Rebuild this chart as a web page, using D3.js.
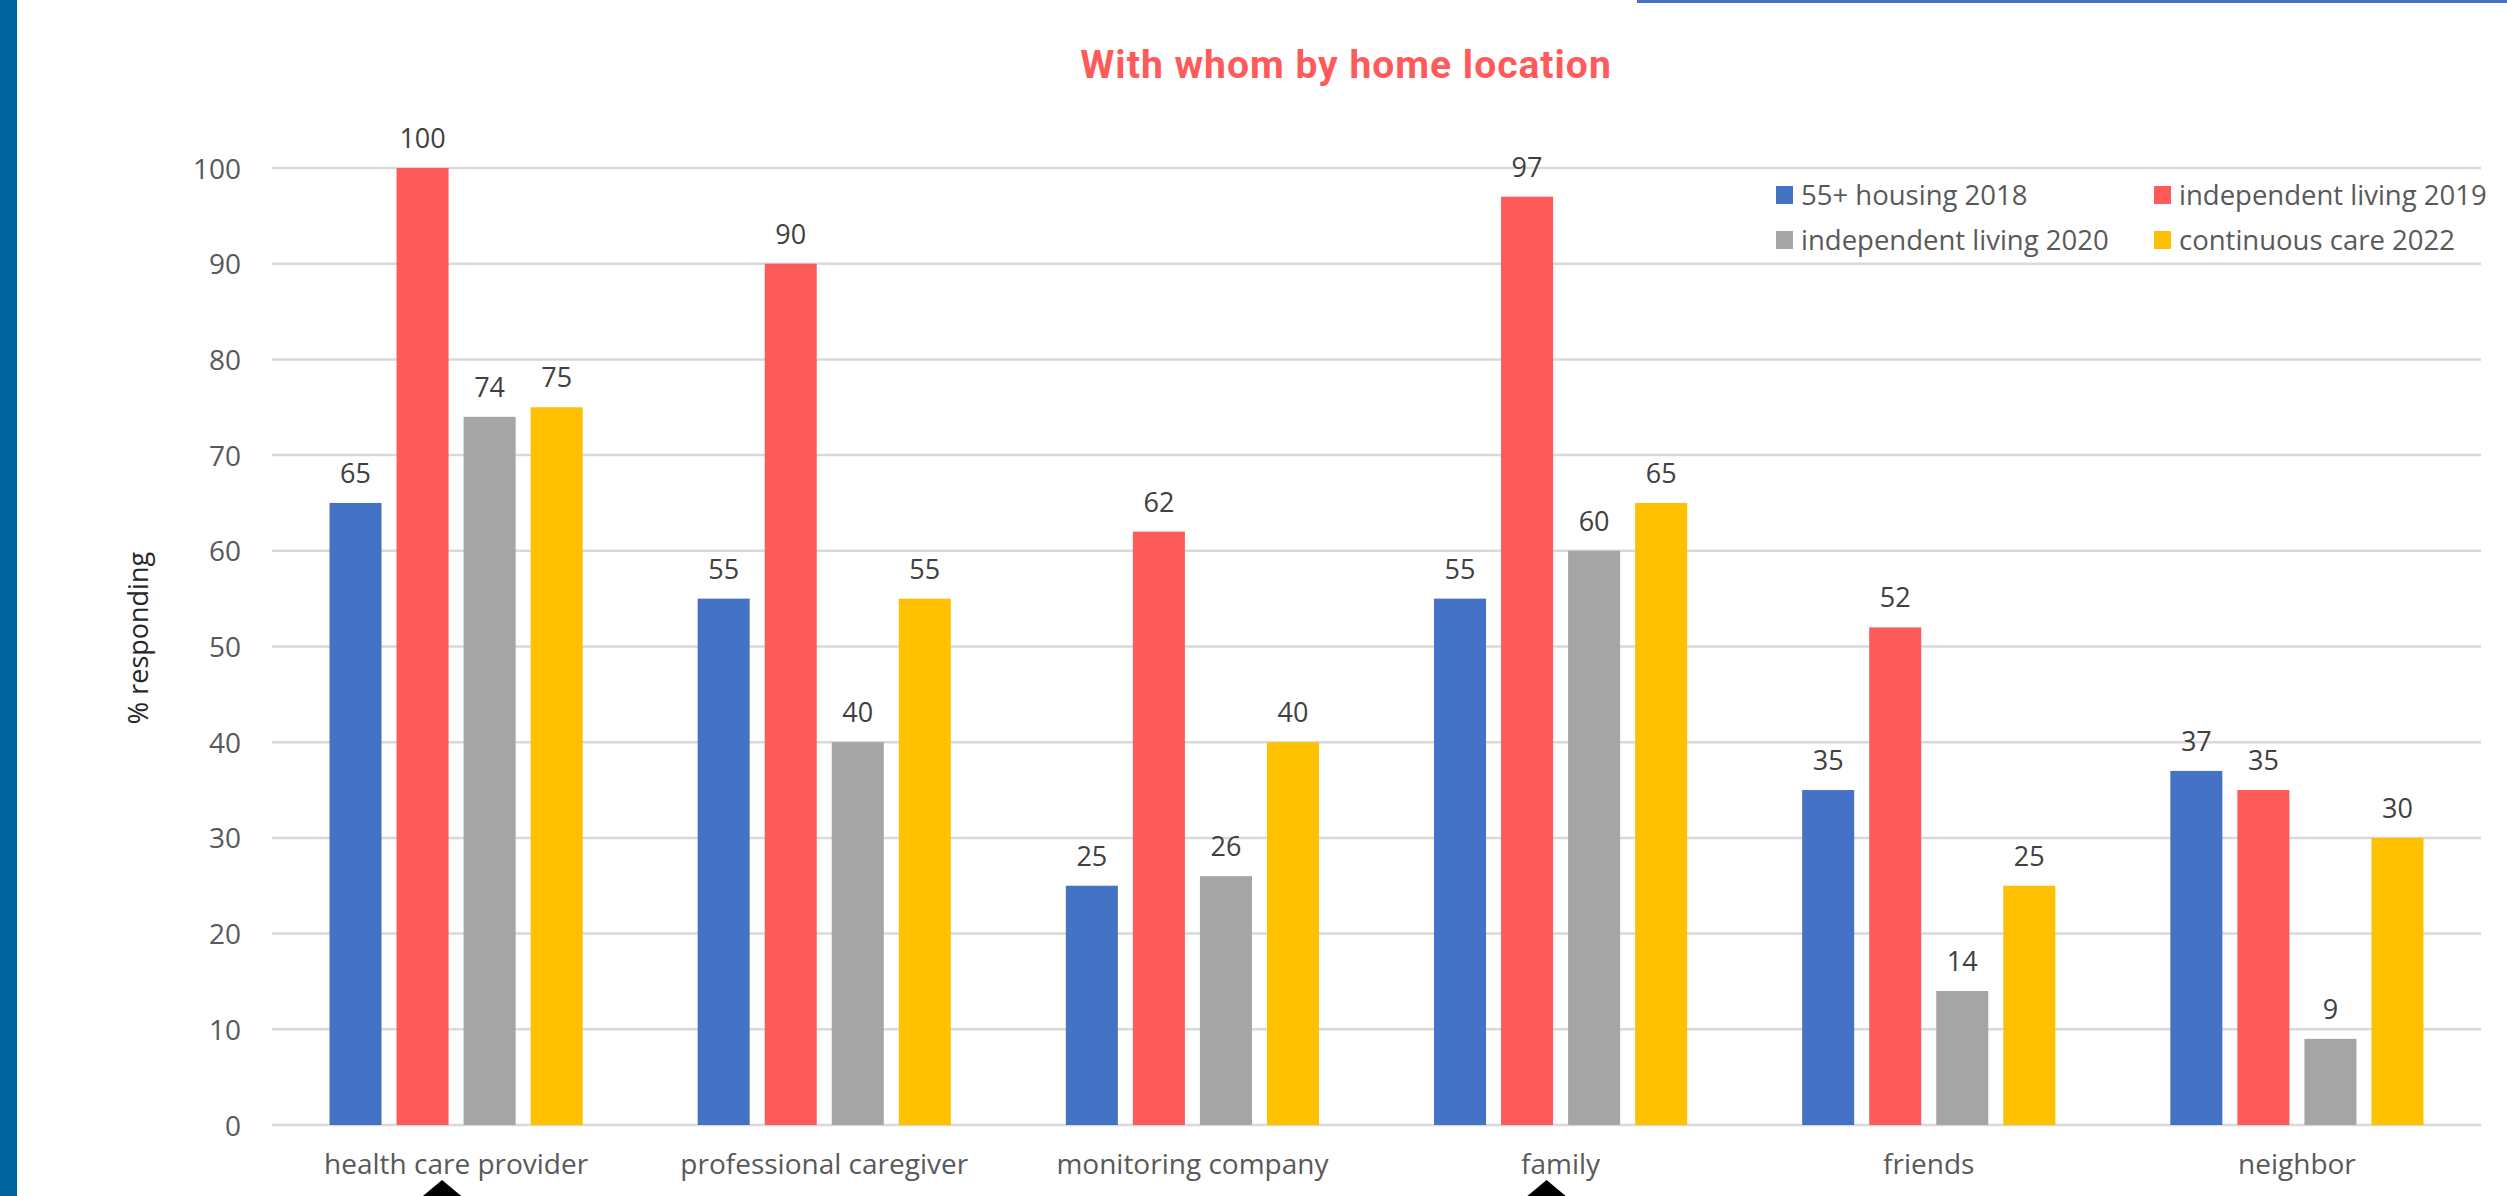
<!DOCTYPE html>
<html>
<head>
<meta charset="utf-8">
<script src="https://cdn.jsdelivr.net/npm/d3@7"></script>
<style>
  html, body { margin: 0; padding: 0; background: #ffffff; }
  svg { display: block; }
</style>
</head>
<body>
<svg id="chart" width="2507" height="1196"></svg>
<script>
// ---- data ----
const categories = ["health care provider", "professional caregiver", "monitoring company", "family", "friends", "neighbor"];
const seriesNames = ["55+ housing 2018", "independent living 2019", "independent living 2020", "continuous care 2022"];
const housing2018 = [65, 55, 25, 55, 35, 37];
const independent2019 = [100, 90, 62, 97, 52, 35];
const independent2020 = [74, 40, 26, 60, 14, 9];
const continuous2022 = [75, 55, 40, 65, 25, 30];
const yTicks = [0, 10, 20, 30, 40, 50, 60, 70, 80, 90, 100];
const titleText = "With whom by home location";
const yLabel = "% responding";
const markedCategories = ["health care provider", "family"];

const seriesValues = [housing2018, independent2019, independent2020, continuous2022];
const colors = ["#4472C4", "#FF5A5A", "#A5A5A5", "#FFC000"];

const svg = d3.select("#chart");
const W = 2507, H = 1196;
const plot = { left: 272, right: 2481, top: 168, bottom: 1125 };

// decorations
svg.append("rect").attr("x", 0).attr("y", 0).attr("width", 17).attr("height", H).attr("fill", "#00649F");
svg.append("rect").attr("x", 1637).attr("y", 0).attr("width", W - 1637).attr("height", 3).attr("fill", "#4472C4");

const x0 = d3.scaleBand().domain(categories).range([plot.left, plot.right]).paddingInner(0).paddingOuter(0);
const groupPad = 57.5;
const x1 = d3.scaleBand().domain(d3.range(seriesNames.length))
  .range([groupPad, x0.bandwidth() - groupPad]).paddingInner(0.224).paddingOuter(0);
const y = d3.scaleLinear().domain([0, 100]).range([plot.bottom, plot.top]);

// gridlines
svg.append("g").selectAll("line").data(yTicks).join("line")
  .attr("x1", plot.left).attr("x2", plot.right)
  .attr("y1", d => y(d)).attr("y2", d => y(d))
  .attr("stroke", "#D9D9D9").attr("stroke-width", 2.5);

// y axis tick labels
const yAxis = d3.axisLeft(y).tickValues(yTicks).tickSize(0).tickPadding(31);
const gy = svg.append("g").attr("transform", `translate(${plot.left},0)`).call(yAxis);
gy.select(".domain").remove();
gy.selectAll("text").attr("font-family", "'Open Sans', sans-serif").attr("font-size", 28)
  .attr("fill", "#595959").attr("dy", "0.36em");

// x axis labels
const xAxis = d3.axisBottom(x0).tickSize(0).tickPadding(29);
const gx = svg.append("g").attr("transform", `translate(0,${plot.bottom})`).call(xAxis);
gx.select(".domain").remove();
gx.selectAll("text").attr("font-family", "'Open Sans', sans-serif").attr("font-size", 28)
  .attr("fill", "#595959").attr("dy", "0.71em");

// bars
const rows = categories.map((c, i) => ({ cat: c, vals: seriesValues.map((s, k) => ({ k, v: s[i] })) }));
const groups = svg.append("g").selectAll("g").data(rows).join("g")
  .attr("transform", d => `translate(${x0(d.cat)},0)`);
groups.selectAll("rect").data(d => d.vals).join("rect")
  .attr("x", d => x1(d.k)).attr("width", x1.bandwidth())
  .attr("y", d => y(d.v)).attr("height", d => y(0) - y(d.v))
  .attr("fill", d => colors[d.k]);
groups.selectAll("text").data(d => d.vals).join("text")
  .attr("x", d => x1(d.k) + x1.bandwidth() / 2)
  .attr("y", d => y(d.v) - 20)
  .attr("text-anchor", "middle")
  .attr("font-family", "'Open Sans', sans-serif").attr("font-size", 27)
  .attr("fill", "#404040")
  .text(d => d.v);

// title
svg.append("text").attr("x", 1346).attr("y", 78).attr("text-anchor", "middle")
  .attr("font-family", "'Roboto', sans-serif").attr("font-weight", "bold").attr("font-size", 39)
  .attr("letter-spacing", 1)
  .attr("fill", "#FF5A5A").text(titleText);

// y label
svg.append("text").attr("transform", "translate(148,638) rotate(-90)").attr("text-anchor", "middle")
  .attr("font-family", "'Open Sans', sans-serif").attr("font-size", 27)
  .attr("fill", "#262626").text(yLabel);

// legend
const legendPos = [[1776, 195], [2154, 195], [1776, 240], [2154, 240]];
const lg = svg.append("g").selectAll("g").data(seriesNames).join("g")
  .attr("transform", (d, i) => `translate(${legendPos[i][0]},${legendPos[i][1]})`);
lg.append("rect").attr("x", 0).attr("y", -9).attr("width", 17).attr("height", 18).attr("fill", (d, i) => colors[i]);
lg.append("text").attr("x", 25).attr("y", 0).attr("dy", "0.35em")
  .attr("font-family", "'Open Sans', sans-serif").attr("font-size", 27.5)
  .attr("fill", "#595959").text(d => d);

// markers below selected categories
svg.append("g").selectAll("path").data(markedCategories).join("path")
  .attr("d", d => {
    const cx = x0(d) + x0.bandwidth() / 2 - 14;
    return `M${cx},1180 L${cx + 24},1200 L${cx - 24},1200 Z`;
  })
  .attr("fill", "#000000");
</script>
</body>
</html>
